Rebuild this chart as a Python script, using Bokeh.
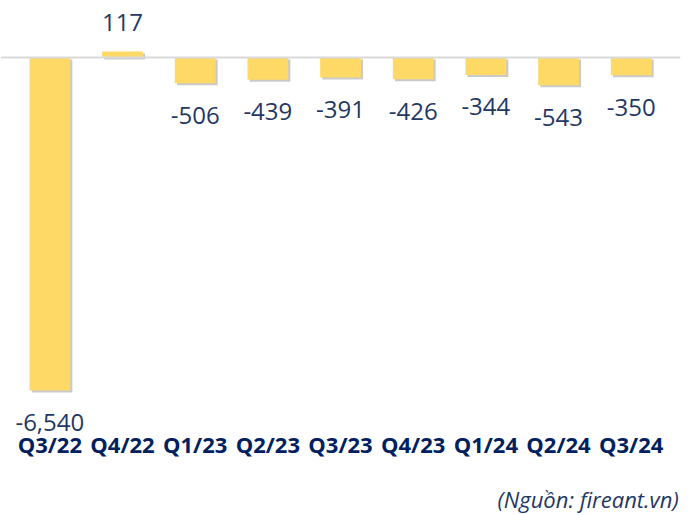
from bokeh.plotting import figure
from bokeh.models import ColumnDataSource, Span, Label, FactorRange
from bokeh.transform import dodge
from bokeh.core.properties import value
from bokeh.embed import file_html
from bokeh.resources import INLINE

quarters = ["Q3/22", "Q4/22", "Q1/23", "Q2/23", "Q3/23", "Q4/23", "Q1/24", "Q2/24", "Q3/24"]
values = [-6540, 117, -506, -439, -391, -426, -344, -543, -350]
value_labels = ["-6,540", "117", "-506", "-439", "-391", "-426", "-344", "-543", "-350"]
source_note = "(Nguồn: fireant.vn)"

src = ColumnDataSource(dict(
    q=quarters,
    v=values,
    top=[max(v, 0) for v in values],
    bottom=[min(v, 0) for v in values],
    lab=value_labels,
    off=[-29 if v > 0 else 32 for v in values],
))

xr = FactorRange(factors=quarters, range_padding=26 / 654, range_padding_units="percent")

p = figure(x_range=xr, y_range=(-8995, 1119), width=691, height=515,
           output_backend="svg", toolbar_location=None,
           min_border_left=0, min_border_right=11, min_border_top=0, min_border_bottom=0)
p.outline_line_color = None
p.background_fill_color = "white"
p.xgrid.visible = False
p.ygrid.visible = False
p.yaxis.visible = False

# shadow
p.vbar(x=dodge("q", 0.03, range=p.x_range), top=dodge("top", -40), bottom=dodge("bottom", -40),
       width=0.56, source=src, fill_color="#A6A6A6", fill_alpha=0.6, line_color=None)
p.vbar(x="q", top="top", bottom="bottom", width=0.56, source=src,
       fill_color="#FFD966", line_color=None)

p.add_layout(Span(location=0, dimension="width", line_color="#D9D9D9", line_width=2))

p.text(x="q", y="v", text="lab", y_offset="off", source=src,
       text_align="center", text_baseline="alphabetic",
       text_font=value("Open Sans"), text_font_size="24px", text_color="#1F3864")

ax = p.xaxis[0]
ax.axis_line_color = None
ax.major_tick_line_color = None
ax.minor_tick_line_color = None
ax.major_label_standoff = -93
ax.major_label_text_font = "Open Sans"
ax.major_label_text_font_style = "bold"
ax.major_label_text_font_size = "22px"
ax.major_label_text_color = "#002060"

p.add_layout(Label(x=497, y=17, x_units="screen", y_units="screen", text=source_note,
                   text_font="Open Sans", text_font_style="italic", text_font_size="22px",
                   text_color="#1F3864", text_baseline="alphabetic"))

open("out.html", "w").write(file_html(p, INLINE))
